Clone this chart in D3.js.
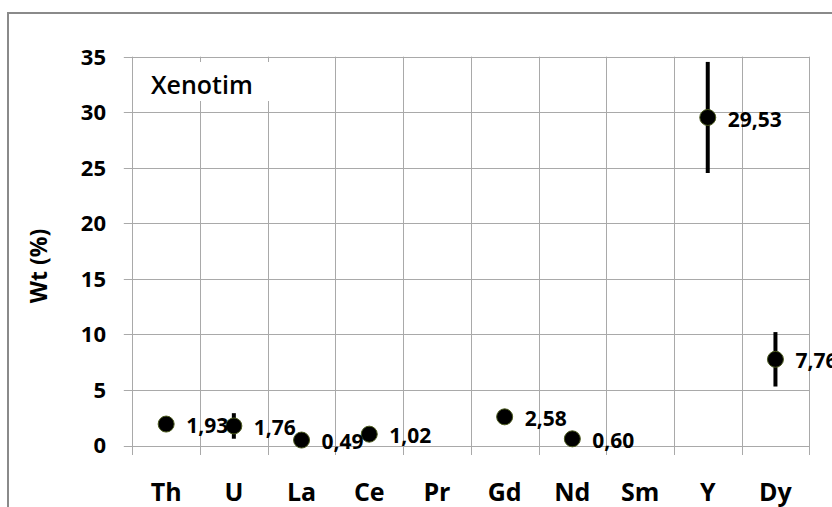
<!DOCTYPE html>
<html>
<head>
<meta charset="utf-8">
<script src="https://cdn.jsdelivr.net/npm/d3@7"></script>
<style>
  html, body { margin: 0; padding: 0; background: #fff; }
  svg { display: block; font-family: "Open Sans", "Noto Sans", sans-serif; }
</style>
</head>
<body>
<svg id="chart" width="832" height="507"></svg>
<script>
// Element concentrations in xenotime (wt %), with standard deviations
const elements = ["Th", "U", "La", "Ce", "Pr", "Gd", "Nd", "Sm", "Y", "Dy"];
const values   = [1.93, 1.76, 0.49, 1.02, null, 2.58, 0.60, null, 29.53, 7.76];
const errors   = [0, 1.15, 0, 0, null, 0, 0, null, 5.0, 2.45];
const yTicks   = [0, 5, 10, 15, 20, 25, 30, 35];
const chartTitle = "Xenotim";
const yTitle = "Wt (%)";

const fmt = v => v.toFixed(2).replace(".", ",");

const svg = d3.select("#chart");
const plot = { left: 132.3, right: 809.3, top: 56.7, bottom: 445.5 };

const x = d3.scaleBand().domain(elements).range([plot.left, plot.right]).padding(0);
const y = d3.scaleLinear().domain([0, 35]).range([plot.bottom, plot.top]);

// outer chart frame (runs past the right and bottom edges)
svg.append("rect")
  .attr("x", 8).attr("y", 13)
  .attr("width", 900).attr("height", 600)
  .attr("fill", "none").attr("stroke", "#8a8a8a").attr("stroke-width", 2);

const gridColor = "#a9a9a9";

// horizontal gridlines with left tick stubs
svg.append("g").selectAll("line").data(yTicks).join("line")
  .attr("x1", plot.left - 8.5).attr("x2", plot.right)
  .attr("y1", d => Math.round(y(d)) + 0.5).attr("y2", d => Math.round(y(d)) + 0.5)
  .attr("stroke", gridColor).attr("stroke-width", 1);

// vertical gridlines at category boundaries, with bottom tick stubs
const bounds = elements.map(e => x(e)).concat([plot.right]);
svg.append("g").selectAll("line").data(bounds).join("line")
  .attr("x1", d => Math.round(d) + 0.5).attr("x2", d => Math.round(d) + 0.5)
  .attr("y1", plot.top).attr("y2", plot.bottom + 9.5)
  .attr("stroke", gridColor).attr("stroke-width", 1);

// title box over the grid
svg.append("rect")
  .attr("x", 137).attr("y", 62).attr("width", 160).attr("height", 39)
  .attr("fill", "#fff");
svg.append("text")
  .attr("x", 151).attr("y", 94)
  .attr("font-size", 25).attr("font-weight", 600).attr("fill", "#000")
  .text(chartTitle);

// y axis tick labels
svg.append("g").selectAll("text").data(yTicks).join("text")
  .attr("x", 106).attr("y", d => y(d))
  .attr("dy", "0.36em")
  .attr("text-anchor", "end")
  .attr("font-size", 22).attr("font-weight", 700).attr("fill", "#000")
  .text(d => d);

// y axis title
svg.append("text")
  .attr("transform", "translate(47,266) rotate(-90)")
  .attr("text-anchor", "middle")
  .attr("font-size", 23).attr("font-weight", 700).attr("fill", "#000")
  .text(yTitle);

// x axis category labels
svg.append("g").selectAll("text").data(elements).join("text")
  .attr("x", d => x(d) + x.bandwidth() / 2).attr("y", 501)
  .attr("text-anchor", "middle")
  .attr("font-size", 25).attr("font-weight", 700).attr("fill", "#000")
  .text(d => d);

const pts = elements.map((e, i) => ({ e, v: values[i], err: errors[i] }))
  .filter(d => d.v !== null);
const cx = d => x(d.e) + x.bandwidth() / 2;

// error bars
svg.append("g").selectAll("line").data(pts.filter(d => d.err > 0)).join("line")
  .attr("x1", cx).attr("x2", cx)
  .attr("y1", d => y(d.v + d.err)).attr("y2", d => y(d.v - d.err))
  .attr("stroke", "#000").attr("stroke-width", 4);

// markers
svg.append("g").selectAll("circle").data(pts).join("circle")
  .attr("cx", cx).attr("cy", d => y(d.v)).attr("r", 8)
  .attr("fill", "#000").attr("stroke", "#4b5a1e").attr("stroke-width", 1);

// value labels
svg.append("g").selectAll("text").data(pts).join("text")
  .attr("x", d => cx(d) + 20).attr("y", d => y(d.v) + 1.5)
  .attr("dy", "0.36em")
  .attr("font-size", 21).attr("font-weight", 700).attr("fill", "#000")
  .text(d => fmt(d.v));
</script>
</body>
</html>
